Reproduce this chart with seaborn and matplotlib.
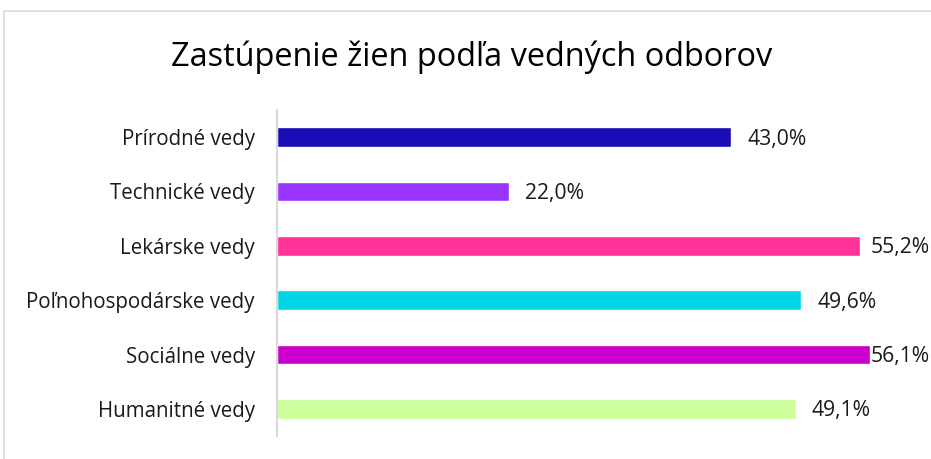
import matplotlib
matplotlib.use("Agg")
import matplotlib.pyplot as plt
import seaborn as sns
import pandas as pd
from matplotlib.patches import Rectangle

categories = ["Prírodné vedy", "Technické vedy", "Lekárske vedy",
              "Poľnohospodárske vedy", "Sociálne vedy", "Humanitné vedy"]
values = [43.0, 22.0, 55.2, 49.6, 56.1, 49.1]
colors = ["#1a0db5", "#9933ff", "#ff3399", "#00d5e3", "#cc00cc", "#ccff99"]
title = "Zastúpenie žien podľa vedných odborov"

sns.set_theme(style="white")
plt.rcParams['font.family'] = ['Open Sans', 'DejaVu Sans']

df = pd.DataFrame({"cat": categories, "val": values})

W, H = 931, 459
fig = plt.figure(figsize=(W/100, H/100), dpi=100)
ax = fig.add_axes([277/W, 1-436/H, 634/W, 326/H])

sns.barplot(data=df, y="cat", x="val", hue="cat", palette=colors,
            orient="h", width=0.368, legend=False, ax=ax, saturation=1)

ax.set_xlim(0, 60)
ax.set_ylim(5.5, -0.5)
ax.set_xlabel("")
ax.set_ylabel("")
ax.set_xticks([])
for s in ["top", "right", "bottom"]:
    ax.spines[s].set_visible(False)
ax.spines["left"].set_color("#d9d9d9")
ax.spines["left"].set_linewidth(1.5)
ax.tick_params(axis="y", length=0, pad=16, labelsize=14.8, labelcolor="#1a1a1a")

fig.canvas.draw()
max_start = 871  # labels must fit inside the chart, as in the reference
for i, cont in enumerate(ax.containers):
    for bar, v in zip(cont.patches, cont.datavalues):
        end_px = ax.transData.transform((bar.get_width(), 0))[0]
        pad_px = min(16, max_start - end_px)
        ax.annotate(f"{v:.1f}%".replace(".", ","),
                    xy=(bar.get_width(), bar.get_y() + bar.get_height() / 2),
                    xytext=(pad_px * 0.72, -1.5), textcoords="offset points",
                    ha="left", va="center", fontsize=15.2, color="#1a1a1a",
                    annotation_clip=False)

fig.text(472/W, 1-57/H, title, ha="center", va="center", fontsize=23.4, color="#000000")

fig.patches.append(Rectangle((4/W, -0.1), 1.2, 1-11/H+0.1, transform=fig.transFigure,
                             fill=False, edgecolor="#d9d9d9", linewidth=1.2, zorder=-1))

fig.savefig("out.png", dpi=100)
